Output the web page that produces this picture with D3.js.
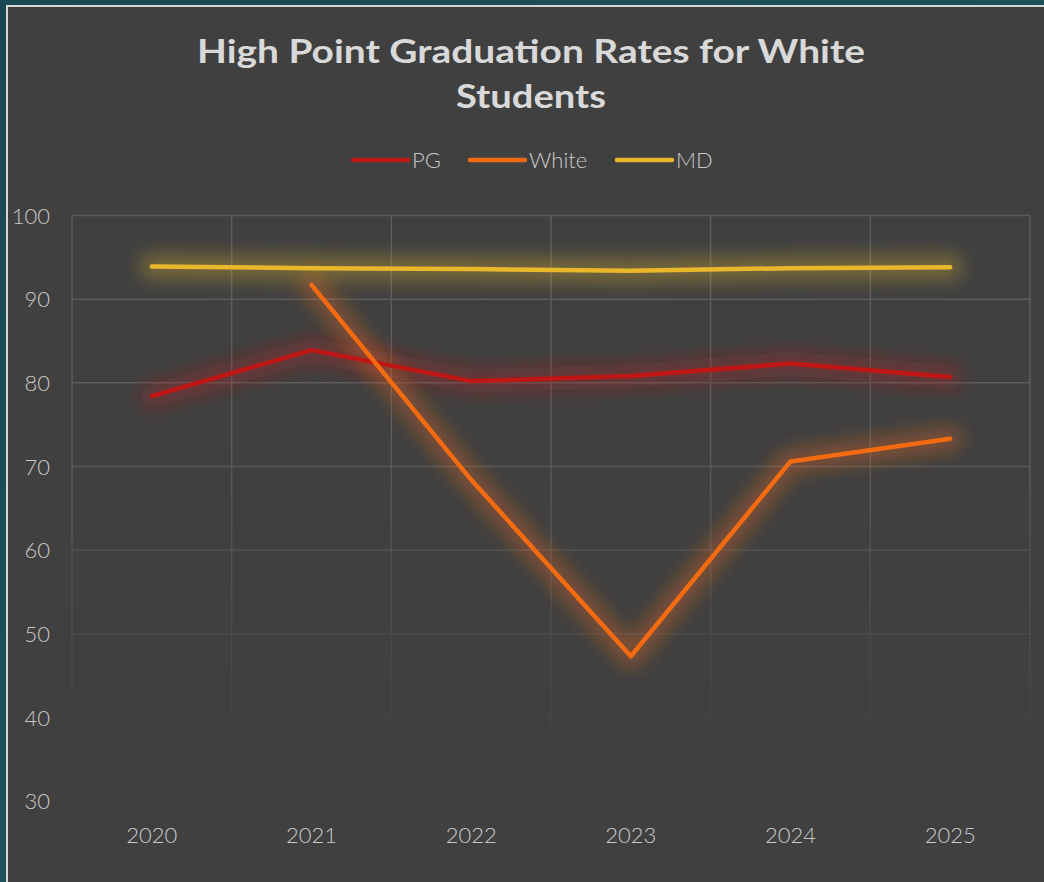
<!DOCTYPE html>
<html><head><meta charset="utf-8">
<script src="https://cdn.jsdelivr.net/npm/d3@7"></script>
<style>
html,body{margin:0;padding:0;background:#1c4a54;}
svg{display:block;}
</style></head>
<body>
<svg id="chart" width="1044" height="882"></svg>
<script>
const years = ["2020","2021","2022","2023","2024","2025"];
const pgValues = [78.4, 83.9, 80.2, 80.8, 82.3, 80.7];
const whiteValues = [null, 91.7, 68.4, 47.3, 70.6, 73.3];
const mdValues = [93.9, 93.7, 93.6, 93.4, 93.7, 93.8];
const yTicks = [30, 40, 50, 60, 70, 80, 90, 100];
const seriesNames = ["PG", "White", "MD"];
const seriesColors = ["#bf1616", "#f26b12", "#e8b82a"];
const titleLines = ["High Point Graduation Rates for White", "Students"];

(function(){
const series = [
  {name: seriesNames[0], values: pgValues, color: seriesColors[0]},
  {name: seriesNames[1], values: whiteValues, color: seriesColors[1]},
  {name: seriesNames[2], values: mdValues, color: seriesColors[2]}
];

const svg = d3.select("#chart");
const font = "'Century Gothic', 'Lato', 'Open Sans', sans-serif";

const defs = svg.append("defs");
const grad = defs.append("linearGradient").attr("id","teal").attr("x1","0").attr("y1","0").attr("x2","1").attr("y2","1");
grad.append("stop").attr("offset","0").attr("stop-color","#1a4852");
grad.append("stop").attr("offset","1").attr("stop-color","#215a63");
svg.append("rect").attr("x",0).attr("y",0).attr("width",1044).attr("height",882).attr("fill","url(#teal)");
svg.append("rect").attr("x",6).attr("y",5).attr("width",1044).attr("height",882).attr("fill","#d6d6d6");
svg.append("rect").attr("x",8).attr("y",7).attr("width",1044).attr("height",882).attr("fill","#404040");

const f = defs.append("filter").attr("id","glow").attr("filterUnits","userSpaceOnUse")
  .attr("x",0).attr("y",0).attr("width",1044).attr("height",882);
f.append("feGaussianBlur").attr("stdDeviation",9);

const mg = defs.append("linearGradient").attr("id","fade").attr("gradientUnits","userSpaceOnUse")
  .attr("x1",0).attr("y1",430).attr("x2",0).attr("y2",770);
mg.append("stop").attr("offset","0").attr("stop-color","#fff");
mg.append("stop").attr("offset","1").attr("stop-color","#000");
defs.append("mask").attr("id","gridmask").attr("maskUnits","userSpaceOnUse")
  .attr("x",0).attr("y",0).attr("width",1044).attr("height",882)
  .append("rect").attr("x",0).attr("y",0).attr("width",1044).attr("height",882).attr("fill","url(#fade)");

const pLeft = 72, pRight = 1030, pTop = 215.5, pBottom = 801;
const x = d3.scaleBand().domain(years).range([pLeft, pRight]).padding(0);
const y = d3.scaleLinear().domain([30, 100]).range([pBottom, pTop]);
const cx = d => x(d) + x.bandwidth()/2;

const titleWidths = [668, 150];
svg.append("g").selectAll("text").data(titleLines).join("text")
  .attr("x", 531).attr("y", (d,i) => 63 + i*45)
  .attr("text-anchor","middle")
  .attr("textLength", (d,i) => titleWidths[i]).attr("lengthAdjust","spacingAndGlyphs")
  .attr("font-family", font).attr("font-weight","bold").attr("font-size",33)
  .attr("fill","#d9d9d9").text(d => d);

const grid = svg.append("g").attr("mask","url(#gridmask)");
grid.selectAll("line.h").data(yTicks).join("line").attr("class","h")
  .attr("x1", pLeft).attr("x2", pRight).attr("y1", d => y(d)).attr("y2", d => y(d))
  .attr("stroke","#5c5c5c").attr("stroke-width",1.5);
const vBounds = years.map(d => x(d)).concat([pRight]);
grid.selectAll("line.v").data(vBounds).join("line").attr("class","v")
  .attr("x1", d => d).attr("x2", d => d).attr("y1", pTop).attr("y2", pBottom)
  .attr("stroke","#5c5c5c").attr("stroke-width",1.5);

const yAxis = d3.axisLeft(y).tickValues(yTicks).tickSize(0).tickPadding(0);
const yg = svg.append("g").attr("transform","translate(50,0)").call(yAxis);
yg.select(".domain").remove();
yg.selectAll("text").attr("font-family", font).attr("font-weight",300).attr("font-size",22).attr("fill","#c8c8c8").attr("dy","0.35em");

const xAxis = d3.axisBottom(x).tickSize(0).tickPadding(0);
const xg = svg.append("g").attr("transform","translate(0,835)").call(xAxis);
xg.select(".domain").remove();
xg.selectAll("text").attr("font-family", font).attr("font-weight",300).attr("font-size",22).attr("fill","#c8c8c8").attr("dy","0.35em");

const line = d3.line().defined(d => d.v != null).x(d => cx(d.year)).y(d => y(d.v));
series.forEach(s => {
  const pts = years.map((yr,i) => ({year: yr, v: s.values[i]}));
  svg.append("path").datum(pts).attr("d", line).attr("fill","none")
    .attr("stroke", s.color).attr("stroke-width", 24).attr("stroke-opacity", 0.34)
    .attr("stroke-linecap","round").attr("stroke-linejoin","round").attr("filter","url(#glow)");
});
series.forEach(s => {
  const pts = years.map((yr,i) => ({year: yr, v: s.values[i]}));
  svg.append("path").datum(pts).attr("d", line).attr("fill","none")
    .attr("stroke", s.color).attr("stroke-width", 4.5)
    .attr("stroke-linecap","round").attr("stroke-linejoin","round");
});

const legendX = [353, 470, 617];
const lg = svg.append("g");
series.forEach((s,i) => {
  lg.append("line").attr("x1", legendX[i]).attr("x2", legendX[i]+55).attr("y1",160).attr("y2",160)
    .attr("stroke", s.color).attr("stroke-width",4.5).attr("stroke-linecap","round");
  lg.append("text").attr("x", legendX[i]+59).attr("y",160).attr("dy","0.35em")
    .attr("font-family", font).attr("font-weight",300).attr("font-size",22).attr("fill","#c8c8c8").text(s.name);
});
})();
</script>
</body></html>
